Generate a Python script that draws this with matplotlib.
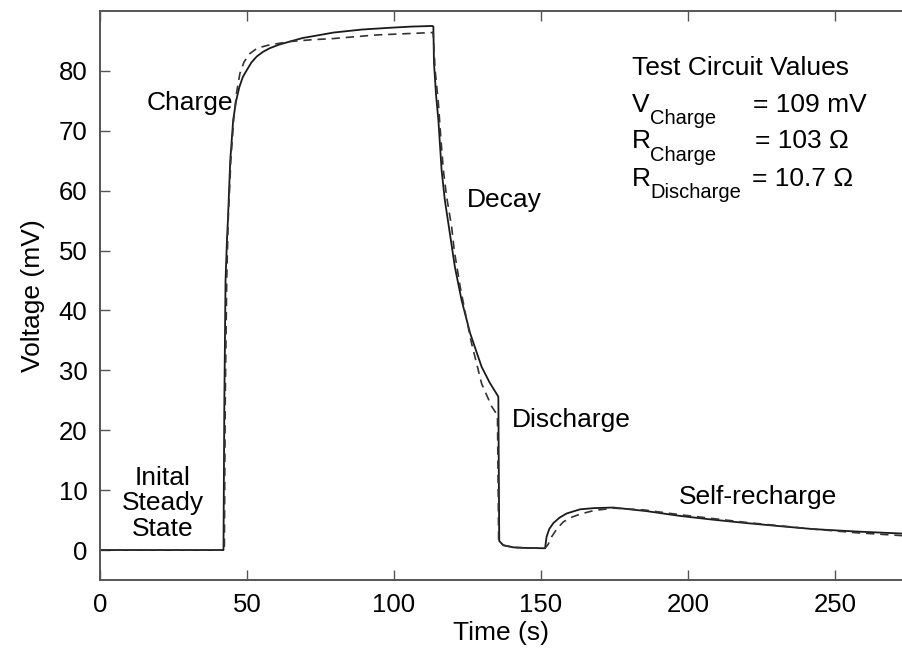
import numpy as np
import matplotlib.pyplot as plt

plt.rcParams['font.family'] = ['Liberation Sans', 'DejaVu Sans']

# -------- DATA --------
# measured cell voltage (solid)
t_meas = [0, 42.0, 42.3, 42.7, 43.2, 43.5, 44.3, 45.3, 46.3, 47.4, 48.6, 49.9,
          51.5, 53.3, 55.5, 57.8, 61.0, 64.6, 69.0, 73.7, 79.4, 89.0, 98.6,
          106.0, 113.0, 113.4, 113.6, 114.3, 115.1, 116.2, 117.3, 119.0, 120.7,
          123.0, 125.9, 129.8, 132.5, 135.5, 135.8, 137.2, 140.6, 145.0, 151.4,
          151.9, 152.8, 154.2, 156.3, 158.7, 163.3, 168.0, 174.6, 185.9, 197.3,
          208.0, 219.9, 231.0, 242.6, 257.0, 273.0]
v_meas = [0, 0, 25, 45, 52, 55, 65, 71.8, 75.0, 77.3, 79.0, 80.1,
          81.4, 82.4, 83.2, 83.8, 84.4, 84.9, 85.5, 85.9, 86.4, 86.9, 87.2,
          87.4, 87.5, 87.4, 81.3, 76.0, 71.8, 63.4, 58.4, 52.9, 47.3,
          41.7, 36.2, 30.6, 28.0, 25.6, 1.5, 0.8, 0.45, 0.35, 0.3,
          2.2, 3.5, 4.5, 5.4, 6.1, 6.8, 7.0, 7.1, 6.5, 5.7,
          5.1, 4.5, 4.0, 3.5, 3.1, 2.75]

# equivalent circuit model (dashed)
t_model = [0, 42.3, 42.6, 43.1, 43.6, 44.5, 45.5, 46.5, 47.6, 49.0, 51.0, 53.5,
           57.3, 64.6, 72.0, 79.4, 94.0, 113.0, 113.3, 114.0, 115.1, 115.9,
           116.8, 117.9, 119.6, 120.5, 122.5, 124.5, 126.4, 129.8, 133.2, 135.2,
           135.6, 137.2, 140.6, 145.0, 151.4, 152.5, 153.6, 155.5, 157.6, 160.0,
           163.3, 168.0, 174.6, 185.0, 197.3, 220.0, 242.6, 257.0, 273.0]
v_model = [0, 0, 25, 45, 55, 65, 72.0, 76.5, 79.6, 81.5, 82.9, 83.8,
           84.3, 84.9, 85.2, 85.4, 86.0, 86.4, 86.5, 80.1, 74.6, 69.0,
           63.4, 59.0, 54.0, 50.0, 44.0, 39.0, 34.5, 27.8, 24.0, 22.5,
           1.5, 0.8, 0.45, 0.35, 0.3, 1.0, 2.2, 3.6, 4.7, 5.4,
           6.0, 6.6, 7.0, 6.7, 5.9, 4.6, 3.5, 2.9, 2.4]

x_ticks = [0, 50, 100, 150, 200, 250]
y_ticks = [0, 10, 20, 30, 40, 50, 60, 70, 80]

# -------- PLOT --------
fig = plt.figure(figsize=(9.02, 6.54), dpi=100)
ax = fig.add_axes([100 / 902, 1 - 580 / 654, 802 / 902, 569 / 654])

ax.plot(t_meas, v_meas, color='#1a1a1a', lw=1.3, solid_joinstyle='round')
ax.plot(t_model, v_model, color='#333333', lw=1.2, linestyle=(0, (5, 3.5)))

ax.set_xlim(0, 272.8)
ax.set_ylim(-5, 90)
ax.set_xticks(x_ticks)
ax.set_yticks(y_ticks)

for side in ['left', 'bottom', 'top']:
    ax.spines[side].set_color('#555555')
    ax.spines[side].set_linewidth(1.4)
ax.spines['right'].set_visible(False)

ax.tick_params(direction='in', top=True, right=False, length=7, width=1,
               color='#555555', labelsize=18.5, pad=9)

fs = 19
ax.set_xlabel('Time (s)', fontsize=fs, labelpad=3)
ax.set_ylabel('Voltage (mV)', fontsize=fs, labelpad=10)

# phase annotations
ax.text(16.0, 73.5, 'Charge', fontsize=fs, va='baseline')
ax.text(124.7, 57.3, 'Decay', fontsize=fs, va='baseline')
ax.text(140.0, 20.6, 'Discharge', fontsize=fs, va='baseline')
ax.text(197.0, 7.7, 'Self-recharge', fontsize=fs, va='baseline')
ax.text(21.3, 7.8, 'Inital\nSteady\nState', fontsize=fs, ha='center',
        va='center', linespacing=1.07)

# circuit parameters
sub = 14.5
ax.text(181.0, 79.3, 'Test Circuit Values', fontsize=fs, va='baseline')
ax.text(181.0, 73.2, 'V', fontsize=fs, va='baseline')
ax.text(187.1, 71.2, 'Charge', fontsize=sub, va='baseline')
ax.text(222.1, 73.2, '= 109 mV', fontsize=fs, va='baseline')
ax.text(181.0, 67.1, 'R', fontsize=fs, va='baseline')
ax.text(187.1, 65.0, 'Charge', fontsize=sub, va='baseline')
ax.text(222.8, 67.1, '= 103 \u03a9', fontsize=fs, va='baseline')
ax.text(181.0, 60.7, 'R', fontsize=fs, va='baseline')
ax.text(187.1, 58.8, 'Discharge', fontsize=sub, va='baseline')
ax.text(221.8, 60.7, '= 10.7 \u03a9', fontsize=fs, va='baseline')

fig.savefig('out.png', dpi=100)
